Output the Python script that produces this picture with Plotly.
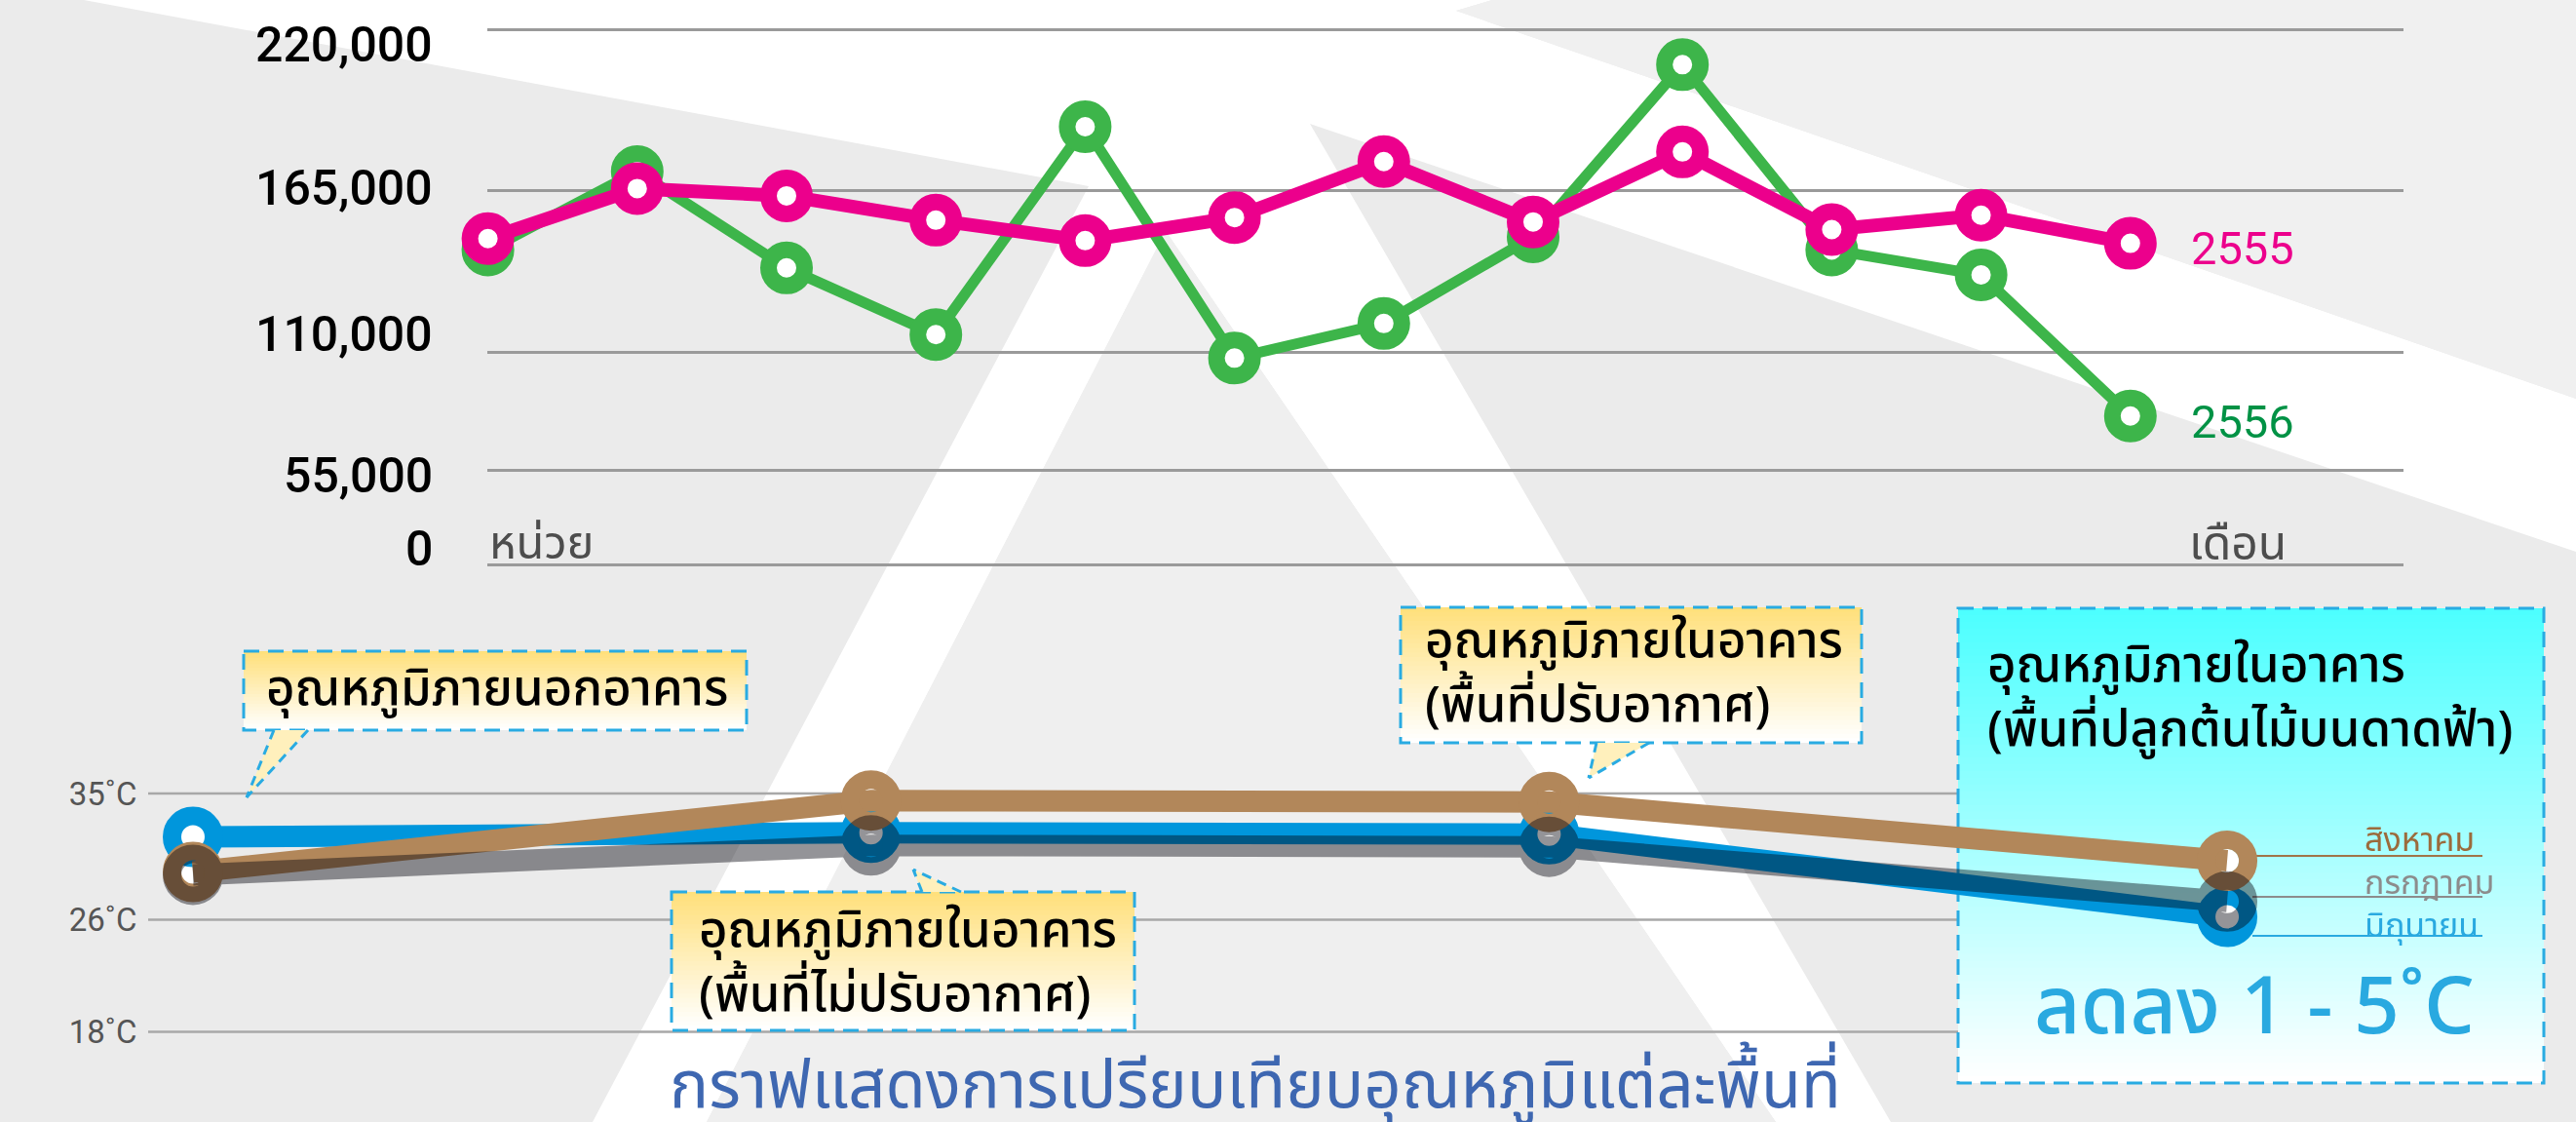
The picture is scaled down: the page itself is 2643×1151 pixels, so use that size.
import plotly.graph_objects as go

W, H = 2643, 1151

# ---------------- data ----------------
months = ["ม.ค.", "ก.พ.", "มี.ค.", "เม.ย.", "พ.ค.", "มิ.ย.",
          "ก.ค.", "ส.ค.", "ก.ย.", "ต.ค.", "พ.ย.", "ธ.ค."]
units_2555 = [148700, 165800, 163300, 155000, 148000, 155900,
              175000, 154400, 178300, 151800, 156700, 147100]
units_2556 = [144800, 171600, 138700, 115900, 186900, 107900,
              119700, 149300, 208100, 144800, 136300, 88100]
top_tick_labels = ["0", "55,000", "110,000", "165,000", "220,000"]
top_tick_positions = [37100, 69700, 110000, 165000, 220000]  # gridlines as drawn (compressed below 110,000)

areas = ["ภายนอกอาคาร", "ภายในอาคาร (พื้นที่ไม่ปรับอากาศ)",
         "ภายในอาคาร (พื้นที่ปรับอากาศ)", "ภายในอาคาร (พื้นที่ปลูกต้นไม้บนดาดฟ้า)"]
temp_june = [31.9, 32.2, 32.1, 26.2]
temp_july = [29.2, 31.3, 31.2, 27.3]
temp_aug = [29.4, 34.5, 34.4, 30.2]
temp_tick_vals = [18, 26, 35]
temp_tick_labels = ["18˚C", "26˚C", "35˚C"]
month_labels = ["สิงหาคม", "กรกฎาคม", "มิถุนายน"]

# style: vertical offsets (px) of the top-axis labels relative to their gridlines
top_label_shift = [17, -6, 18, 3, -15]

THAI = "Noto Sans Thai, Noto Sans Thai UI, Loma, Garuda, Waree, Tlwg Typo, Noto Sans, sans-serif"
NUM = "Roboto, Noto Sans, sans-serif"

PINK = "#EC008C"
GREEN = "#3DB54A"
BLUE = "#0096DC"
BROWN = "#B2875A"
month_label_colors = ["#9B6B3C", "#8C8C8C", "#29A9E0"]


def px(x):
    return x / W


def py(y):
    return 1 - y / H


def poly_path(pts):
    return "M " + " L ".join(f"{px(a):.5f},{py(b):.5f}" for a, b in pts) + " Z"


shapes = []

# ---------------- background ----------------
shapes.append(dict(type="path", xref="paper", yref="paper", layer="below",
                   path=poly_path([(86, 0), (1117, 191), (608, 1151), (725, 1151), (1196, 237),
                                   (1822, 1151), (1940, 1151), (1344, 127), (2643, 566),
                                   (2643, 409), (1494, 11), (1531, 0)]),
                   fillcolor="#FFFFFF", line=dict(width=0)))
shapes.append(dict(type="path", xref="paper", yref="paper", layer="below",
                   path=poly_path([(1531, 0), (2643, 0), (2643, 409), (1494, 11)]),
                   fillcolor="#F0F0F0", line=dict(width=0)))
shapes.append(dict(type="path", xref="paper", yref="paper", layer="below",
                   path=poly_path([(1196, 237), (725, 1151), (1822, 1151)]),
                   fillcolor="#EFEFEF", line=dict(width=0)))

# lower chart gridlines (drawn under the callout boxes)
for v in temp_tick_vals:
    shapes.append(dict(type="line", xref="paper", yref="y2", layer="below",
                       x0=px(152), x1=px(2009), y0=v, y1=v,
                       line=dict(color="#A8A8A8", width=2.5)))


def grad_box(x0, y0, x1, y1, top, bot, n):
    for i in range(n):
        t = i / (n - 1)
        c = tuple(int(round(top[k] + (bot[k] - top[k]) * t)) for k in range(3))
        ya = y0 + (y1 - y0) * i / n
        yb = min(y1, y0 + (y1 - y0) * (i + 1) / n + 0.8)
        shapes.append(dict(type="rect", xref="paper", yref="paper", layer="below",
                           x0=px(x0), x1=px(x1), y0=py(ya), y1=py(yb),
                           fillcolor=f"rgb{c}", line=dict(width=0)))
    shapes.append(dict(type="rect", xref="paper", yref="paper", layer="below",
                       x0=px(x0), x1=px(x1), y0=py(y0), y1=py(y1),
                       fillcolor="rgba(0,0,0,0)",
                       line=dict(color="#29ABE2", width=3, dash="16px,9px")))


def tail(b1, b2, tip):
    shapes.append(dict(type="path", xref="paper", yref="paper", layer="below",
                       path=poly_path([b1, b2, tip]), fillcolor="#FFF0BC", line=dict(width=0)))
    for b in (b1, b2):
        shapes.append(dict(type="line", xref="paper", yref="paper", layer="below",
                           x0=px(b[0]), y0=py(b[1]), x1=px(tip[0]), y1=py(tip[1]),
                           line=dict(color="#29ABE2", width=3, dash="10px,7px")))


YEL = (255, 224, 124)
WHITE = (255, 255, 255)
CYAN = (77, 255, 255)

grad_box(250, 668, 766, 749, YEL, WHITE, 24)
tail((281, 749), (316, 749), (253, 818))
grad_box(689, 915, 1164, 1057, YEL, WHITE, 30)
tail((946, 915), (986, 915), (937, 892))
grad_box(1437, 623, 1910, 762, YEL, WHITE, 30)
tail((1638, 762), (1692, 762), (1630, 798))
grad_box(2009, 624, 2610, 1111, CYAN, WHITE, 70)

# legend leader lines at the last lower-chart point
for yy, col in zip((878, 920, 960), ("#A07448", "#8C8C8C", "#29A9E0")):
    shapes.append(dict(type="line", xref="paper", yref="paper", layer="below",
                       x0=px(2311), x1=px(2547), y0=py(yy), y1=py(yy),
                       line=dict(color=col, width=2)))

fig = go.Figure()

# ---------------- top chart ----------------
fig.add_trace(go.Scatter(
    x=months, y=units_2556, mode="lines+markers", name="2556",
    line=dict(color=GREEN, width=11),
    marker=dict(size=37, color="white", line=dict(color=GREEN, width=17)),
    cliponaxis=False, xaxis="x", yaxis="y"))
fig.add_trace(go.Scatter(
    x=months, y=units_2555, mode="lines+markers", name="2555",
    line=dict(color=PINK, width=14),
    marker=dict(size=37, color="white", line=dict(color=PINK, width=17)),
    cliponaxis=False, xaxis="x", yaxis="y"))

# ---------------- lower chart ----------------
fig.add_trace(go.Scatter(
    x=areas, y=temp_aug, mode="markers", showlegend=False, hoverinfo="skip",
    marker=dict(size=24, color="white", line=dict(width=0)),
    cliponaxis=False, xaxis="x2", yaxis="y2"))
fig.add_trace(go.Scatter(
    x=areas, y=temp_june, mode="lines+markers", name="มิถุนายน",
    line=dict(color=BLUE, width=22),
    marker=dict(size=43, color="white", line=dict(color=BLUE, width=19)),
    cliponaxis=False, xaxis="x2", yaxis="y2"))
fig.add_trace(go.Scatter(
    x=areas, y=temp_aug, mode="lines+markers", name="สิงหาคม",
    line=dict(color=BROWN, width=22),
    marker=dict(size=43, color="rgba(0,0,0,0)", line=dict(color=BROWN, width=19)),
    cliponaxis=False, xaxis="x2", yaxis="y2"))
fig.add_trace(go.Scatter(
    x=areas, y=temp_july, mode="lines+markers", name="กรกฎาคม", opacity=0.42,
    line=dict(color="#00000A", width=22),
    marker=dict(size=43, color="rgba(0,0,0,0)", line=dict(color="#00000A", width=19)),
    cliponaxis=False, xaxis="x2", yaxis="y2"))

annotations = []


def ann(text, x, y, size, color, xanchor="left", family=THAI, weight=None, **kw):
    f = dict(family=family, size=size, color=color)
    if weight:
        f["weight"] = weight
    annotations.append(dict(text=text, x=px(x), y=py(y), xref="paper", yref="paper",
                            xanchor=xanchor, yanchor="middle", showarrow=False,
                            font=f, **kw))


# top-axis labels, placed at their gridline values
for val, lab, sh in zip(top_tick_positions, top_tick_labels, top_label_shift):
    annotations.append(dict(text=lab, x=px(446), y=val, xref="paper", yref="y",
                            xanchor="right", yanchor="middle", yshift=sh, showarrow=False,
                            font=dict(family=NUM, size=50, color="black", weight=500)))

ann("หน่วย", 500, 558, 47, "#4D4D4D")
ann("เดือน", 2244, 560, 48, "#4D4D4D")

# series end labels, attached to the last data points
annotations.append(dict(text="2555", x=months[-1], y=units_2555[-1], xref="x", yref="y",
                        xanchor="left", yanchor="middle", xshift=60, yshift=-5, showarrow=False,
                        font=dict(family=NUM, size=47, color=PINK)))
annotations.append(dict(text="2556", x=months[-1], y=units_2556[-1], xref="x", yref="y",
                        xanchor="left", yanchor="middle", xshift=60, yshift=-6, showarrow=False,
                        font=dict(family=NUM, size=47, color="#009245")))

# callout texts
ann("อุณหภูมิภายนอกอาคาร", 510, 707, 51, "black", xanchor="center", weight=500)
ann("อุณหภูมิภายในอาคาร<br>(พื้นที่ไม่ปรับอากาศ)", 715, 988, 51, "black", align="left", weight=500)
ann("อุณหภูมิภายในอาคาร<br>(พื้นที่ปรับอากาศ)", 1460, 691, 51, "black", align="left", weight=500)
ann("อุณหภูมิภายในอาคาร<br>(พื้นที่ปลูกต้นไม้บนดาดฟ้า)", 2037, 716, 51, "black",
    align="left", weight=500)
ann("ลดลง 1 - 5˚C", 2313, 1035, 82, "#29A9E0", xanchor="center", weight=500)

# lower legend labels (one block, coloured per month)
legend_text = "<br>".join(f"<span style='color:{c}'>{t}</span>"
                          for t, c in zip(month_labels, month_label_colors))
ann(legend_text, 2424, 906, 34, "#8C8C8C", align="left")

# title
ann("กราฟแสดงการเปรียบเทียบอุณหภูมิแต่ละพื้นที่", 1288, 1115, 67, "#3E67B1", xanchor="center")

fig.update_layout(
    width=W, height=H,
    margin=dict(l=0, r=0, t=0, b=0, pad=0, autoexpand=False),
    paper_bgcolor="#EBEBEB", plot_bgcolor="rgba(0,0,0,0)",
    showlegend=False,
    shapes=shapes, annotations=annotations,
    xaxis=dict(domain=[px(500), px(2466)], type="category", range=[-0.0039, 12.829],
               showgrid=False, showticklabels=False, zeroline=False, showline=False,
               ticks="", anchor="y", fixedrange=True, automargin=False),
    yaxis=dict(domain=[py(590), py(20)], range=[33759, 223529],
               tickmode="array", tickvals=top_tick_positions, ticktext=top_tick_labels,
               showticklabels=False,
               showgrid=True, gridcolor="#9A9A9A", gridwidth=2.5, zeroline=False,
               showline=False, ticks="", anchor="x",
               fixedrange=True, automargin=False),
    xaxis2=dict(domain=[px(152), px(2400)], type="category", range=[-0.0661, 3.1652],
                showgrid=False, showticklabels=False, zeroline=False, showline=False,
                ticks="", anchor="y2", fixedrange=True, automargin=False),
    yaxis2=dict(domain=[py(1110), py(760)], range=[14.42, 38.755],
                tickmode="array", tickvals=temp_tick_vals, ticktext=temp_tick_labels,
                showgrid=False, zeroline=False, showline=False,
                ticks="outside", ticklen=4, tickcolor="rgba(0,0,0,0)",
                tickfont=dict(family=NUM, size=33, color="#555555"), anchor="x2",
                fixedrange=True, automargin=False),
)

fig.write_html("out.html", config={"displayModeBar": False},
               post_script="document.body.style.margin='0px';")
